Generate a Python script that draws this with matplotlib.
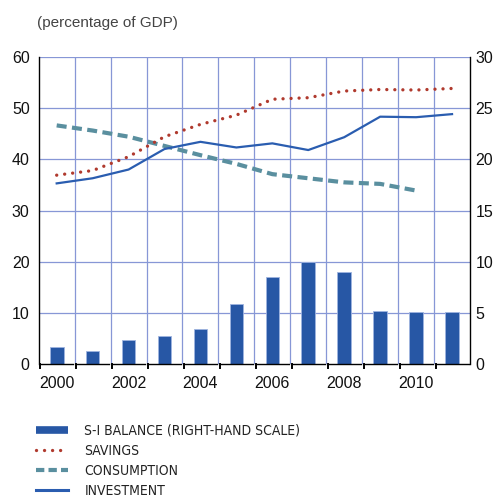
import matplotlib
matplotlib.use("Agg")
import matplotlib.pyplot as plt
from matplotlib.lines import Line2D
import numpy as np

# datos
years = [2000, 2001, 2002, 2003, 2004, 2005, 2006, 2007, 2008, 2009, 2010, 2011]
si_balance = [1.7, 1.3, 2.4, 2.8, 3.5, 5.9, 8.5, 10.0, 9.0, 5.2, 5.1, 5.1]
savings = [36.9, 37.8, 40.5, 44.4, 46.8, 48.6, 51.7, 52.0, 53.3, 53.6, 53.5, 53.8]
consumption = [46.6, 45.6, 44.4, 42.6, 40.8, 39.1, 37.1, 36.3, 35.5, 35.2, 33.9]
investment = [35.3, 36.3, 38.0, 42.0, 43.4, 42.3, 43.1, 41.8, 44.3, 48.3, 48.2, 48.8]
year_labels = ["2000", "2002", "2004", "2006", "2008", "2010"]
legend_labels = ["S-I BALANCE (RIGHT-HAND SCALE)", "SAVINGS", "CONSUMPTION", "INVESTMENT"]

c_bar = "#2757a5"
c_sav = "#b03a2e"
c_con = "#5a8f9f"
c_inv = "#2a5db0"
c_grid = "#8797d6"

plt.rcParams["font.family"] = ["Liberation Sans", "DejaVu Sans"]

fig = plt.figure(figsize=(4.97, 4.97), dpi=100)
ax = fig.add_axes([0.0779, 0.2666, 0.8678, 0.6194])
ax2 = ax.twinx()

x = np.arange(len(years))

# barras (escala derecha)
ax2.bar(x, si_balance, width=0.38, color=c_bar, edgecolor="#9fb4e0", linewidth=0.6, zorder=2)
ax2.set_ylim(0, 30)
ax2.set_yticks(np.arange(0, 31, 5))

# lineas (escala izquierda) por encima de las barras
ax.set_zorder(ax2.get_zorder() + 1)
ax.patch.set_visible(False)
ax2.patch.set_visible(False)

ax.plot(x[:len(consumption)], consumption, color=c_con, lw=3.0, linestyle=(0, (2.4, 1.3)),
        solid_capstyle="butt", dash_capstyle="butt", zorder=3)
ax.plot(x, savings, color=c_sav, lw=2.4, linestyle=(0, (0.01, 2.4)),
        dash_capstyle="round", zorder=4)
ax.plot(x, investment, color=c_inv, lw=1.6, zorder=5)

ax.set_xlim(-0.5, len(years) - 0.5)
ax.set_ylim(0, 60)
ax.set_yticks(np.arange(0, 61, 10))
ax.set_xticks(np.arange(0, 11, 2))
ax.set_xticklabels(year_labels)

# cuadricula a mano en el fondo (ax2)
for b in np.arange(0.5, len(years) - 1, 1.0):
    ax2.axvline(b, color=c_grid, lw=0.9, zorder=0)
for v in range(5, 31, 5):
    ax2.axhline(v, color=c_grid, lw=0.9, zorder=0)
ax2.set_xlim(-0.5, len(years) - 0.5)

for a in (ax, ax2):
    a.spines["top"].set_visible(False)
    a.spines["bottom"].set_visible(False)
    a.tick_params(axis="y", length=0, labelsize=11.5, colors="#111111")
ax.tick_params(axis="y", pad=6.5)
ax2.tick_params(axis="y", pad=4)
ax.spines["right"].set_visible(False)
ax2.spines["left"].set_visible(False)
ax.spines["left"].set_linewidth(1.0)
ax2.spines["right"].set_linewidth(1.0)
ax.tick_params(axis="x", length=0, labelsize=11.5, pad=8, colors="#111111")

# eje x segmentado con ganchos
tr = ax.get_xaxis_transform()
for k in range(len(years)):
    x0 = k - 0.5 + 0.04
    x1 = k + 0.5 - 0.04
    ax.plot([x0, x1], [0, 0], color="black", lw=1.0, transform=tr, clip_on=False, zorder=6)
    ax.plot([x0, x0], [0, -0.012], color="black", lw=1.4, transform=tr, clip_on=False, zorder=6)

fig.text(0.074, 0.953, "(percentage of GDP)", fontsize=11, color="#444444", va="center")

handles = [
    Line2D([], [], color=c_bar, lw=5.5, solid_capstyle="butt"),
    Line2D([], [], color=c_sav, lw=2.4, linestyle=(0, (0.01, 2.4)), dash_capstyle="round"),
    Line2D([], [], color=c_con, lw=3.0, linestyle=(0, (2.0, 1.0))),
    Line2D([], [], color=c_inv, lw=2.2),
]
leg = fig.legend(handles, legend_labels, loc="upper left", bbox_to_anchor=(0.072, 0.148),
                 frameon=False, borderpad=0, borderaxespad=0, handlelength=2.3,
                 handletextpad=1.2, labelspacing=0.45,
                 prop={"family": "DejaVu Sans", "stretch": "condensed", "size": 10})
for t in leg.get_texts():
    t.set_color("#222222")

fig.savefig("out.png", dpi=100)
